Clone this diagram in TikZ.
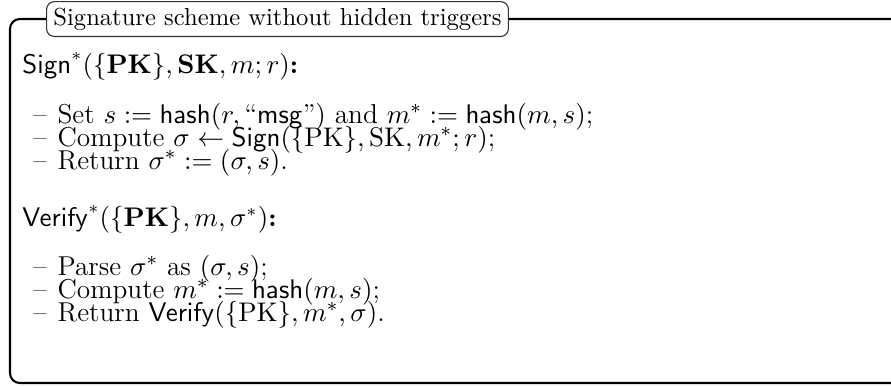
\documentclass[tikz,border=0pt]{standalone}
\usepackage{amsmath}
\usetikzlibrary{positioning}

\begin{document}
\begin{tikzpicture}[
    x=0.4065pt, y=-0.4065pt,
    % Estilos dos nós
    every node/.style={inner sep=0pt, font=\normalsize},
    heading/.style={anchor=base west, font=\fontsize{10.6}{12.7}\selectfont},
    bodyline/.style={anchor=base west, font=\fontsize{11.1}{13.3}\selectfont,
                     text height=7pt, text depth=2pt},
    titletab/.style={draw=black!80, line width=0.45pt, rounded corners=3.2pt,
                     fill=white, anchor=north west, inner xsep=2.8pt,
                     minimum height=14.2pt},
    frameline/.style={line width=0.85pt, rounded corners=4pt}
]
\useasboundingbox (0,0) rectangle (891,385);

% Moldura aberta à direita
\coordinate (ftop) at (891,19);
\coordinate (fbot) at (891,383);
\draw[frameline] (ftop) -- (10,19) -- (10,383) -- (fbot);

% Título
\node[titletab] (title) at (46,1) {Signature scheme without hidden triggers};

% Sign*
\node[heading] (signhead) at (22,73)
    {$\mathsf{Sign}^*(\{\mathbf{PK}\},\mathbf{SK},m;r)$\textbf{:}};
\node[bodyline] (sign1) at (33,123)
    {\makebox[9.8pt][l]{--}Set $s := \mathsf{hash}(r,\text{``}\mathsf{msg}\text{''})$ and $m^* := \mathsf{hash}(m,s)$;};
\node[bodyline] (sign2) at (33,146)
    {\makebox[9.8pt][l]{--}Compute $\sigma \leftarrow \mathsf{Sign}(\{\mathrm{PK}\},\mathrm{SK},m^*;r)$;};
\node[bodyline] (sign3) at (33,169)
    {\makebox[9.8pt][l]{--}Return $\sigma^* := (\sigma,s)$.};

% Verify*
\node[heading] (verhead) at (22,226)
    {$\mathsf{Verify}^*(\{\mathbf{PK}\},m,\sigma^*)$\textbf{:}};
\node[bodyline] (ver1) at (33,275)
    {\makebox[9.8pt][l]{--}Parse $\sigma^*$ as $(\sigma,s)$;};
\node[bodyline] (ver2) at (33,298)
    {\makebox[9.8pt][l]{--}Compute $m^* := \mathsf{hash}(m,s)$;};
\node[bodyline] (ver3) at (33,321)
    {\makebox[9.8pt][l]{--}Return $\mathsf{Verify}(\{\mathrm{PK}\},m^*,\sigma)$.};

\end{tikzpicture}
\end{document}
